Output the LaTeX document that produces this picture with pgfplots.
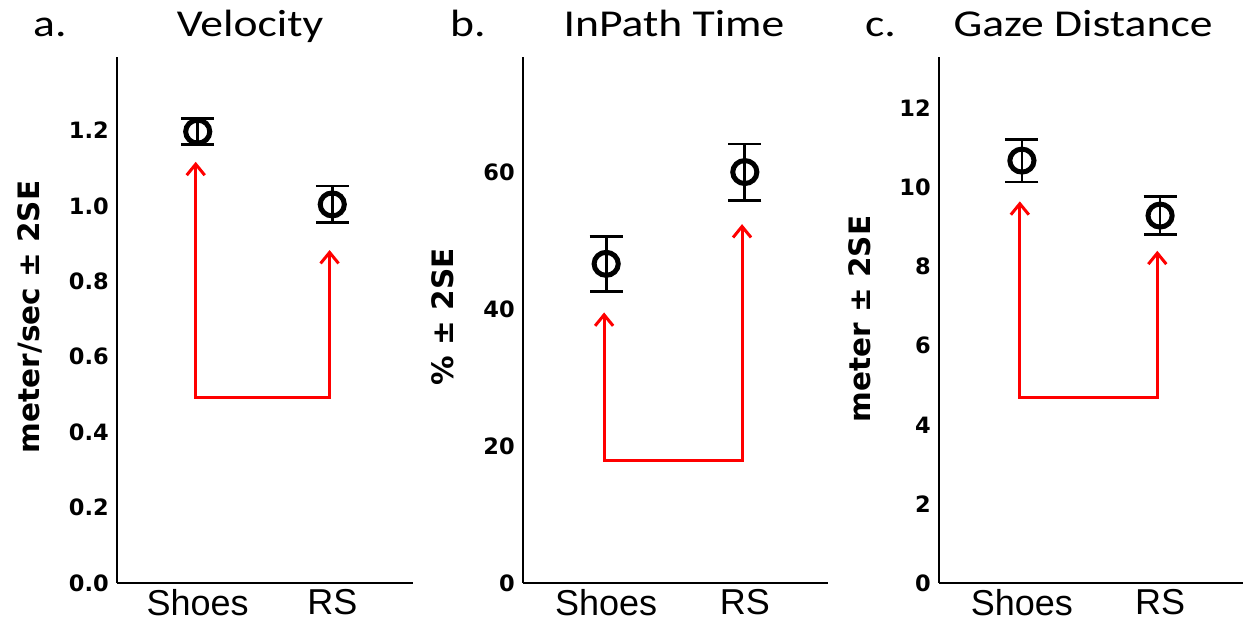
\documentclass[border=0pt]{standalone}
\usepackage{fontspec}
\usepackage{pgfplots}
\pgfplotsset{compat=1.18}
\usetikzlibrary{arrows.meta}
\newfontfamily\titlefont[FakeStretch=1.2]{Carlito}
\newfontfamily\dvfont{DejaVu Sans}
\newfontfamily\arialfont{Liberation Sans}

\pgfplotsset{
  panel/.style={
    scale only axis, width=296pt, height=526pt,
    anchor=south west, clip=false,
    axis x line=bottom, axis y line=left,
    axis line style={-, line width=2.6pt},
    major tick length=0pt,
    xmin=0.4, xmax=2.6, ymin=0,
    xtick={1,2}, xticklabels={Shoes,RS},
    /pgf/number format/assume math mode=true,
    yticklabel style={font=\dvfont\bfseries\fontsize{22.5}{24}\selectfont, inner sep=0pt, xshift=-8pt},
    xticklabel style={font=\arialfont\fontsize{36}{40}\selectfont, inner sep=0pt, yshift=-6pt},
    ylabel style={font=\dvfont\bfseries\fontsize{29.5}{32}\selectfont, anchor=center},
  },
  est/.style={black, only marks, line width=5pt, mark=o, mark size=11.5pt,
    every mark/.append style={line width=5pt, xscale=1.05},
    error bars/.cd, y dir=both, y explicit,
    error bar style={line width=2.8pt},
    error mark options={line width=2.8pt, mark size=16.5pt, rotate=90}},
  jump/.style={red, line width=3pt,
    {Straight Barb[length=11pt,width=18pt,line width=3pt]}-{Straight Barb[length=11pt,width=18pt,line width=3pt]}},
}

\begin{document}
\begin{tikzpicture}
\useasboundingbox (0pt,0pt) rectangle (1243pt,623pt);

% a. Velocity
\begin{axis}[panel, at={(117pt,40pt)}, ymax=1.395,
  ytick={0,0.2,0.4,0.6,0.8,1.0,1.2},
  yticklabel style={/pgf/number format/.cd, fixed, fixed zerofill, precision=1},
  ylabel={meter/sec ± 2SE},
  ylabel style={at={(axis description cs:-0.294,0.506)}}]
\addplot[jump] coordinates {(0.985,1.117)(0.985,0.492)(1.98,0.492)(1.98,0.883)};
\addplot[est] coordinates {(1,1.197) +- (0,0.035) (2,1.004) +- (0,0.049)};
\end{axis}

% b. InPath Time
\begin{axis}[panel, at={(523pt,40pt)}, width=305pt, ymax=76.8,
  ytick={0,20,40,60},
  ylabel={\% ± 2SE},
  ylabel style={at={(axis description cs:-0.263,0.506)}}]
\addplot[jump] coordinates {(0.985,39.5)(0.985,17.9)(1.98,17.9)(1.98,52.4)};
\addplot[est] coordinates {(1,46.6) +- (0,4.0) (2,60.0) +- (0,4.1)};
\end{axis}

% c. Gaze Distance
\begin{axis}[panel, at={(939pt,40pt)}, width=304pt, ymax=13.3,
  ytick={0,2,4,6,8,10,12},
  ylabel={meter ± 2SE},
  ylabel style={at={(axis description cs:-0.26,0.502)}}]
\addplot[jump] coordinates {(0.985,9.65)(0.985,4.68)(1.98,4.68)(1.98,8.4)};
\addplot[est] coordinates {(1,10.68) +- (0,0.54) (2,9.29) +- (0,0.48)};
\end{axis}

\begin{scope}[every node/.style={font=\titlefont\fontsize{38}{40}\selectfont, inner sep=0pt}]
\node[anchor=base west] at (33pt,586pt) {a.};
\node[anchor=base] at (250pt,586pt) {Velocity};
\node[anchor=base west] at (450pt,586pt) {b.};
\node[anchor=base] at (674pt,586pt) {InPath Time};
\node[anchor=base west] at (865pt,586pt) {c.};
\node[anchor=base] at (1083pt,586pt) {Gaze Distance};
\end{scope}
\end{tikzpicture}
\end{document}
